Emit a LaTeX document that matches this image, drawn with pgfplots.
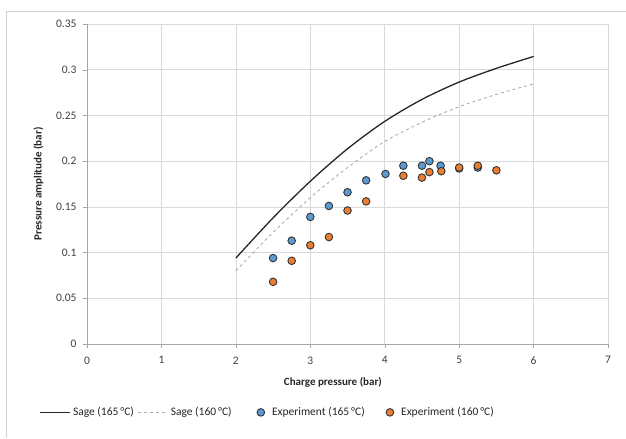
\documentclass[border=0pt]{standalone}
\usepackage{pgfplots}
\pgfplotsset{compat=1.18}
\usepackage{fontspec}
\setmainfont{Carlito}
\definecolor{xlblue}{HTML}{5B9BD5}
\definecolor{xlorange}{HTML}{ED7D31}
\pgfplotsset{
  lineleg/.style={legend image code/.code={\draw[##1] (0pt,0pt) -- (30pt,0pt);}},
  markleg/.style={legend image code/.code={\draw[##1] plot coordinates {(5pt,0pt)};\path (0pt,0pt) (14pt,0pt);}},
}
\begin{document}
\begin{tikzpicture}
\begin{axis}[
    scale only axis,
    width=521pt, height=320pt,
    xmin=0, xmax=7, ymin=0, ymax=0.35,
    xtick={0,...,7},
    ytick={0,0.05,...,0.35},
    yticklabel style={/pgf/number format/fixed, /pgf/number format/precision=2, xshift=-3pt},
    xticklabel style={yshift=-5pt},
    /pgf/number format/assume math mode=true,
    tick label style={font=\fontsize{11.5}{13}\selectfont, text=black!75},
    label style={font=\fontsize{11}{13}\selectfont\bfseries, text=black!85},
    xlabel={Charge pressure (bar)},
    ylabel={Pressure amplitude (bar)},
    xlabel style={at={(rel axis cs:0.472,0)}, anchor=north, yshift=-30pt},
    ylabel style={at={(rel axis cs:0,0.5)}, anchor=south, yshift=40pt},
    grid=major,
    major grid style={gray!30, line width=0.7pt},
    axis line style={gray!70, line width=0.7pt},
    axis x line*=bottom, axis y line*=left,
    tick align=outside, tick style={gray!70},
    major tick length=4pt,
    clip=false,
    legend style={at={(rel axis cs:0.347,-0.185)}, anchor=north, draw=none,
        legend columns=4, font=\fontsize{11.5}{13}\selectfont, text=black!85,
        /tikz/column 2/.style={column sep=2pt},
        /tikz/column 4/.style={column sep=22pt},
        /tikz/column 6/.style={column sep=18pt}},
    legend cell align=left,
]
\addplot[black!85, line width=1.3pt, smooth, lineleg] coordinates {
(2,0.094) (2.5,0.138) (3,0.178) (3.5,0.2135) (4,0.2435) (4.5,0.2675) (5,0.2865) (5.5,0.3015) (6,0.3145)};
\addlegendentry{Sage (165\,°C)}
\addplot[gray!65, dashed, line width=0.9pt, smooth, lineleg] coordinates {
(2,0.080) (2.5,0.122) (3,0.160) (3.5,0.193) (4,0.2215) (4.5,0.2425) (5,0.2595) (5.5,0.273) (6,0.2845)};
\addlegendentry{Sage (160\,°C)}
\addplot[only marks, mark=*, mark size=3.8pt, mark options={fill=xlblue, draw=black!80, line width=0.9pt}, markleg] coordinates {
(2.5,0.094) (2.75,0.113) (3,0.139) (3.25,0.151) (3.5,0.166) (3.75,0.179) (4.01,0.186) (4.25,0.195) (4.5,0.195) (4.6,0.2) (4.75,0.195) (5,0.192) (5.25,0.193)};
\addlegendentry{Experiment (165\,°C)}
\addplot[only marks, mark=*, mark size=3.8pt, mark options={fill=xlorange, draw=black!80, line width=0.9pt}, markleg] coordinates {
(2.5,0.068) (2.75,0.091) (3,0.108) (3.25,0.117) (3.5,0.146) (3.75,0.156) (4.25,0.184) (4.5,0.182) (4.6,0.188) (4.76,0.189) (5,0.193) (5.25,0.195) (5.5,0.19)};
\addlegendentry{Experiment (160\,°C)}
\coordinate (bl) at (rel axis cs:-0.167,-0.294);
\coordinate (tr) at (rel axis cs:1.0345,1.075);
\coordinate (fl) at (rel axis cs:-0.1536,-0.294);
\coordinate (ft) at (rel axis cs:-0.1536,1.0406);
\coordinate (fr) at (rel axis cs:1.0345,1.0406);
\end{axis}
\draw[gray!35, line width=1pt] (fl) -- (ft) -- (fr);
\pgfresetboundingbox
\path[use as bounding box] (bl) rectangle (tr);
\end{tikzpicture}
\end{document}
